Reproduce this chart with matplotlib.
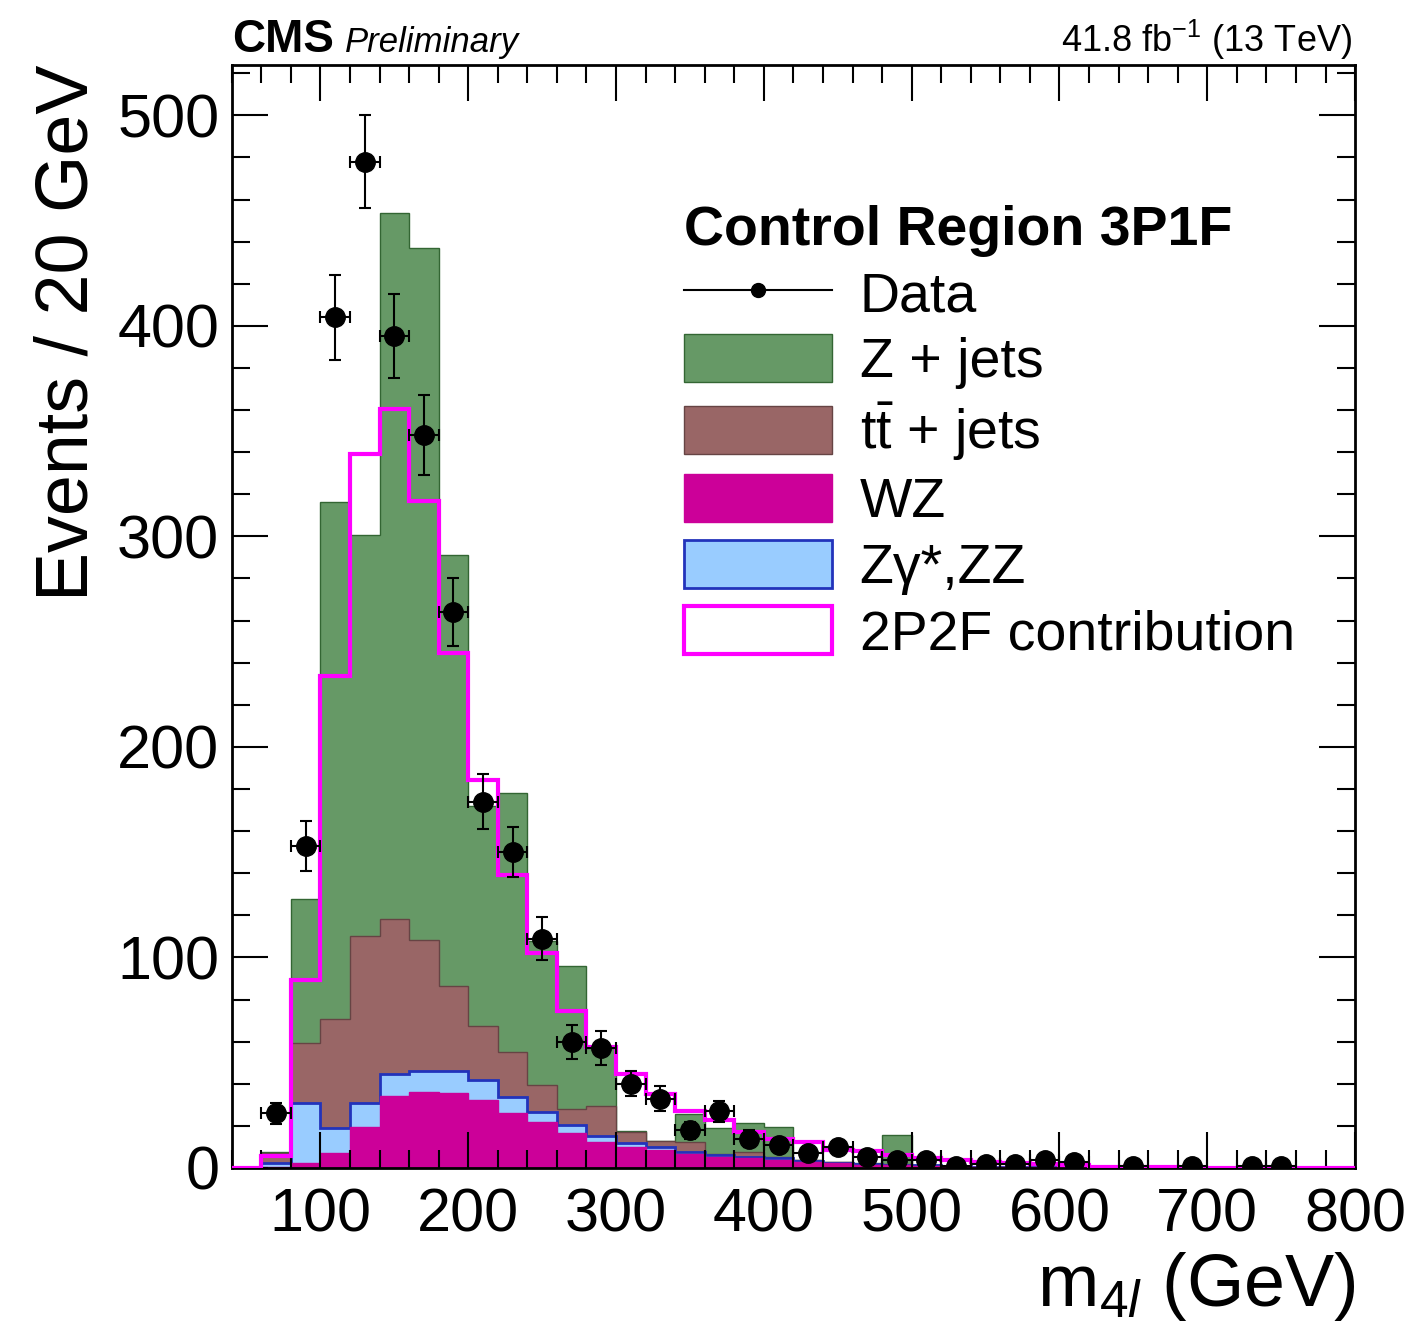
import numpy as np
import matplotlib
matplotlib.use("Agg")
import matplotlib.pyplot as plt
from matplotlib.patches import Patch
from matplotlib.lines import Line2D
from matplotlib.ticker import MultipleLocator

plt.rcParams['font.family'] = 'Liberation Sans'
plt.rcParams['mathtext.fontset'] = 'custom'
plt.rcParams['mathtext.rm'] = 'Liberation Sans'
plt.rcParams['mathtext.it'] = 'Liberation Sans:italic'
plt.rcParams['mathtext.bf'] = 'Liberation Sans:bold'

# bin edges of m4l (GeV), 20 GeV bins
edges = np.arange(40, 820, 20)

# stacked backgrounds, events per bin (40-60, 60-80, ..., 780-800)
wz = [0, 0.5, 2.2, 7, 19.3, 34.2, 36.3, 35.5, 32.3, 26, 22, 16.5, 12.5, 10.1, 8.6, 6.7,
      5.4, 4.6, 3.8, 3.0, 2.2, 1.6, 1.2, 1.0, 0.8, 0.6, 0.5, 0.4, 0.3, 0.3, 0.2, 0.2,
      0.1, 0.1, 0.1, 0.1, 0.1, 0.1]
zz = [0, 1.7, 28.8, 11.9, 11.7, 10.5, 10.0, 10.8, 9.5, 7.6, 4.8, 3.9, 2.7, 1.9, 1.4, 1.1,
      0.8, 0.8, 0.8, 0.5, 0.4, 0.3, 0.3, 0.2, 0.1, 0.1, 0.1, 0.1, 0.1, 0, 0, 0,
      0, 0, 0, 0, 0, 0]
ttbar = [0, 4.8, 28.6, 51.8, 79.0, 73.6, 62.1, 40.2, 25.7, 21.7, 12.6, 7.5, 14.3, 5.3, 3.0, 4.7,
         0.3, 2.4, 0.4, 0.3, 0.2, 0.1, 0.2, 0.1, 0.1, 0, 0, 0, 0, 0, 0, 0,
         0, 0, 0, 0, 0, 0]
zjets = [0, 0.5, 68.4, 245.8, 190.5, 335.2, 328.6, 204.5, 104.5, 122.7, 68.6, 68.1, 27.5, 0.2, 0, 13.2,
         12.4, 13.4, 14.3, 0.2, 0.2, 0.2, 14.0, 0.2, 0.1, 0, 0, 0, 0, 0, 0, 0,
         0, 0, 0, 0, 0, 0]

# 2P2F contribution (outline only)
p2f = [0, 5.7, 89.4, 233.5, 339.0, 360.3, 317.0, 244.6, 184.4, 139.0, 102.3, 74.8, 57.7, 44.7, 35.2, 27.2,
       22.8, 17.3, 13.6, 12.5, 8.6, 8.0, 6.2, 4.8, 3.7, 3.0, 2.5, 2.0, 1.2, 0.6, 0.4, 0.3,
       0.2, 0.2, 0.1, 0.1, 0.1, 0.1]

# data points
data_x = [70, 90, 110, 130, 150, 170, 190, 210, 230, 250, 270, 290, 310, 330, 350, 370,
          390, 410, 430, 450, 470, 490, 510, 530, 550, 570, 590, 610, 650, 690, 730, 750]
data_y = [26, 153, 404, 478, 395, 348, 264, 174, 150, 109, 60, 57, 40, 33, 18, 27,
          14, 11, 7, 10, 5, 4, 4, 1, 2, 2, 4, 3, 1, 1, 1, 1]
data_err = [5, 12, 20, 22, 20, 19, 16, 13, 12, 10, 8, 8, 6, 6, 4, 5,
            4, 3, 3, 3, 2, 2, 2, 1, 1.4, 1.4, 2, 2, 1, 1, 1, 1]

c_zjets = '#669966'
c_tt = '#996666'
c_wz = '#cc0099'
c_zz = '#99ccff'
c_p2f = '#ff00ff'

fig = plt.figure(figsize=(14.13, 13.22), dpi=100)
ax = fig.add_axes([0.164, 0.1165, 0.795, 0.8345])

# stack: draw cumulative sums from the top down, like ROOT THStack
s1 = np.array(wz)
s2 = s1 + np.array(zz)
s3 = s2 + np.array(ttbar)
s4 = s3 + np.array(zjets)
ax.stairs(s4, edges, fill=True, facecolor=c_zjets, edgecolor='#336633', lw=1)
ax.stairs(s3, edges, fill=True, facecolor=c_tt, edgecolor='#664444', lw=1)
ax.stairs(s2, edges, fill=True, facecolor=c_zz, edgecolor='#2233bb', lw=2)
ax.stairs(s1, edges, fill=True, facecolor=c_wz, edgecolor=c_wz, lw=1)

ax.stairs(p2f, edges, color=c_p2f, lw=3, zorder=3)

ax.errorbar(data_x, data_y, yerr=data_err, xerr=10, fmt='o', color='black',
            ms=14, elinewidth=1.5, capsize=4, capthick=1.5, zorder=4)

ax.set_xlim(40, 800)
ax.set_ylim(0, 524)
ax.xaxis.set_major_locator(MultipleLocator(100))
ax.xaxis.set_minor_locator(MultipleLocator(20))
ax.yaxis.set_major_locator(MultipleLocator(100))
ax.yaxis.set_minor_locator(MultipleLocator(20))
ax.tick_params(which='both', direction='in', top=True, right=True, width=1.5)
ax.tick_params(which='major', length=26, labelsize=44)
ax.tick_params(which='minor', length=13)
ax.tick_params(axis='x', pad=14)
ax.tick_params(axis='y', pad=9)
for sp in ax.spines.values():
    sp.set_linewidth(2)

ax.set_xlabel(r'm$_{4\mathit{l}}$ (GeV)', fontsize=53, loc='right', labelpad=4)
ax.set_ylabel('Events / 20 GeV', fontsize=53, loc='top')
ax.yaxis.set_label_coords(-0.115, 1.0)

ax.text(0.0, 1.012, 'CMS', transform=ax.transAxes, fontsize=33, fontweight='bold',
        ha='left', va='baseline')
ax.text(0.101, 1.012, 'Preliminary', transform=ax.transAxes, fontsize=25, style='italic',
        ha='left', va='baseline')
ax.text(0.997, 1.012, r'41.8 fb$^{-1}$ (13 TeV)', transform=ax.transAxes, fontsize=26,
        ha='right', va='baseline')

handles = [
    Line2D([0], [0], color='black', lw=1.5, marker='o', ms=10),
    Patch(facecolor=c_zjets, edgecolor='#336633', lw=1),
    Patch(facecolor=c_tt, edgecolor='#664444', lw=1),
    Patch(facecolor=c_wz, edgecolor=c_wz, lw=1),
    Patch(facecolor=c_zz, edgecolor='#2233bb', lw=2),
    Patch(facecolor='white', edgecolor=c_p2f, lw=3),
]
labels = ['Data', 'Z + jets', r'$\mathrm{t\bar{t}}$ + jets', 'WZ', 'Zγ*,ZZ', '2P2F contribution']
leg = ax.legend(handles, labels, loc='upper left', bbox_to_anchor=(0.4027, 0.873),
                frameon=False, fontsize=40, handlelength=2.66, handleheight=0.95,
                handletextpad=0.5, labelspacing=0.2, borderpad=0, borderaxespad=0,
                title='Control Region 3P1F',
                title_fontproperties={'weight': 'bold', 'size': 40},
                alignment='left')

fig.savefig('out.png', dpi=100)
